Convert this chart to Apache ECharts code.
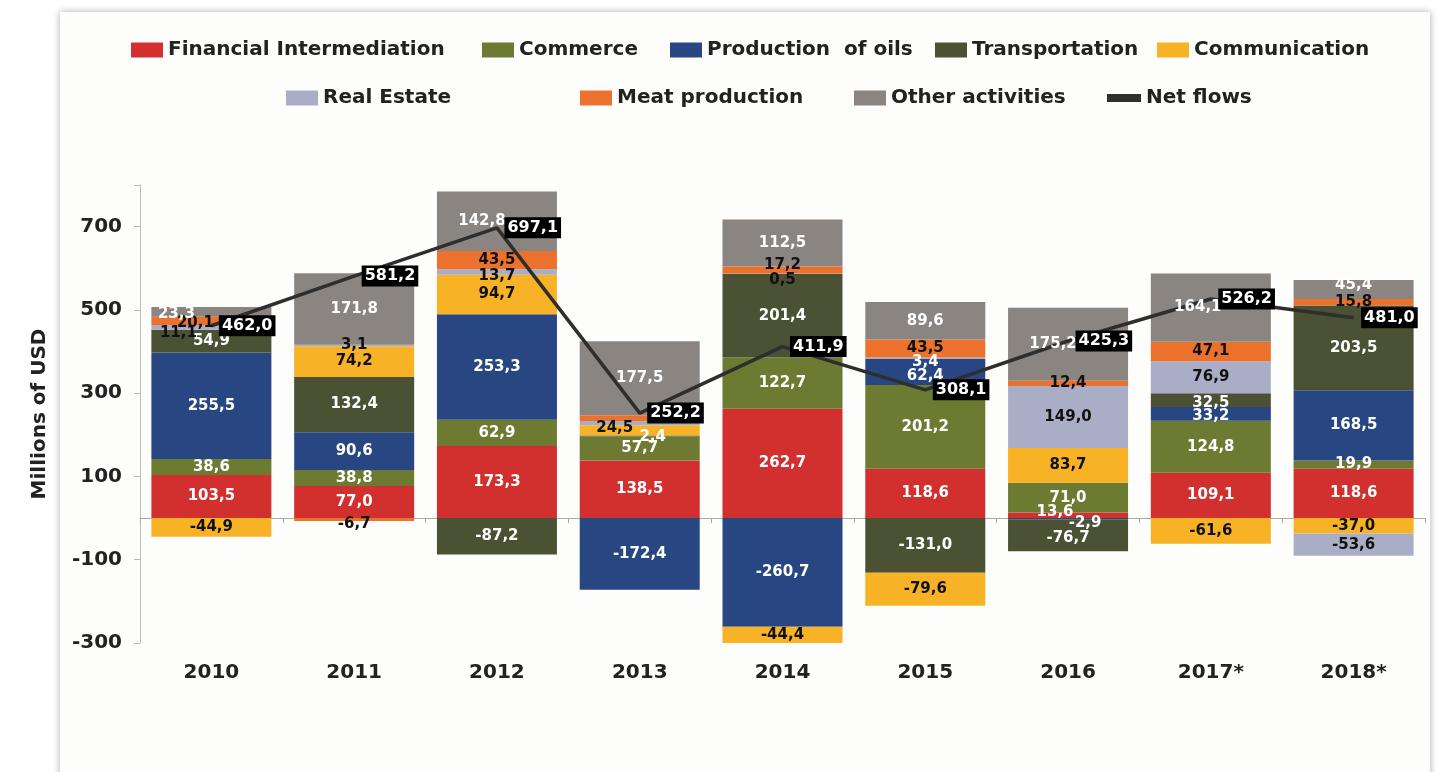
<!DOCTYPE html>
<html>
<head>
<meta charset="utf-8">
<title>Net flows by activity</title>
<script src="https://cdn.jsdelivr.net/npm/echarts@6/dist/echarts.min.js"></script>
<style>
    html, body { margin: 0; padding: 0; background: #ffffff; overflow: hidden; }
    #card {
        position: absolute; left: 60px; top: 12px; width: 1370px; height: 820px;
        background: #fdfdfb; box-shadow: 0 0 7px rgba(0, 0, 0, 0.35);
    }
    #chart { position: absolute; left: 0; top: 0; width: 1438px; height: 772px; }
</style>
</head>
<body>
<div id="card"></div>
<div id="chart"></div>
<script>
// data
const years = ['2010', '2011', '2012', '2013', '2014', '2015', '2016', '2017*', '2018*'];
const financial = [103.5, 77.0, 173.3, 138.5, 262.7, 118.6, 13.6, 109.1, 118.6];
const commerce = [38.6, 38.8, 62.9, 57.7, 122.7, 201.2, 71.0, 124.8, 19.9];
const oils = [255.5, 90.6, 253.3, -172.4, -260.7, 62.4, -2.9, 33.2, 168.5];
const transportation = [54.9, 132.4, -87.2, 2.4, 201.4, -131.0, -76.7, 32.5, 203.5];
const communication = [-44.9, 74.2, 94.7, 24.5, -44.4, -79.6, 83.7, -61.6, -37.0];
const realEstate = [11.1, 3.1, 13.7, 9.8, 0.5, 3.4, 149.0, 76.9, -53.6];
const meat = [20.1, -6.7, 43.5, 14.2, 17.2, 43.5, 12.4, 47.1, 15.8];
const other = [23.3, 171.8, 142.8, 177.5, 112.5, 89.6, 175.2, 164.1, 45.4];
const netFlows = [462.0, 581.2, 697.1, 252.2, 411.9, 308.1, 425.3, 526.2, 481.0];
const yTicks = [-300, -100, 100, 300, 500, 700];

const FONT = 'DejaVu Sans';

// label tweaks where the segments are thin (series key -> year index -> [dx, dy])
const nudges = {
    financial: { 6: [-13, -3] },
    oils: { 5: [0, 4], 6: [17, 4], 7: [0, 2] },
    transportation: { 3: [13, 1], 6: [0, 3], 7: [0, 3] },
    communication: { 3: [-25, -2] },
    realEstate: { 0: [-33, 6], 2: [0, 4], 4: [0, 6], 5: [0, 4] },
    meat: { 0: [-16, 2], 1: [0, 5], 4: [0, -5] },
    other: { 0: [-35, 2], 2: [-15, 0], 6: [-15, 0], 7: [-13, 0], 8: [0, -4] }
};
const noLabel = { realEstate: [3], meat: [3] };
const whiteLabel = { realEstate: [5] };

const stacks = [
    { key: 'financial', name: 'Financial Intermediation', values: financial, color: '#d2302f', text: '#ffffff' },
    { key: 'commerce', name: 'Commerce', values: commerce, color: '#6d7a32', text: '#ffffff' },
    { key: 'oils', name: 'Production  of oils', values: oils, color: '#284682', text: '#ffffff' },
    { key: 'transportation', name: 'Transportation', values: transportation, color: '#4b5233', text: '#ffffff' },
    { key: 'communication', name: 'Communication', values: communication, color: '#f8b225', text: '#111111' },
    { key: 'realEstate', name: 'Real Estate', values: realEstate, color: '#a9aec6', text: '#111111' },
    { key: 'meat', name: 'Meat production', values: meat, color: '#ec712c', text: '#111111' },
    { key: 'other', name: 'Other activities', values: other, color: '#8a8580', text: '#ffffff' }
];

function fmt(v) {
    return v.toFixed(1).replace('.', ',');
}

// coloured segments (no text)
const barSeries = stacks.map(function (s) {
    return {
        name: s.name,
        type: 'bar',
        stack: 'total',
        barWidth: 120,
        z: 2,
        itemStyle: { color: s.color },
        data: s.values
    };
});

// the same stacks again, invisible, only to carry the numbers above the line
const barLabelSeries = stacks.map(function (s) {
    const data = s.values.map(function (v, i) {
        const item = { value: v };
        if ((noLabel[s.key] || []).indexOf(i) >= 0) {
            item.label = { show: false };
            return item;
        }
        const lab = {};
        if (nudges[s.key] && nudges[s.key][i]) lab.offset = nudges[s.key][i];
        if ((whiteLabel[s.key] || []).indexOf(i) >= 0) lab.color = '#ffffff';
        if (Object.keys(lab).length) item.label = lab;
        return item;
    });
    return {
        name: s.name,
        type: 'bar',
        stack: 'labels',
        barWidth: 120,
        barGap: '-100%',
        z: 4,
        silent: true,
        itemStyle: { color: 'rgba(0,0,0,0)' },
        label: {
            show: true,
            position: 'inside',
            color: s.text,
            fontFamily: FONT,
            fontSize: 15,
            fontWeight: 'bold',
            formatter: function (p) { return fmt(p.value); }
        },
        data: data
    };
});

const lineSeries = {
    name: 'Net flows',
    type: 'line',
    data: netFlows,
    symbol: 'none',
    z: 3,
    lineStyle: { color: '#2e2e2e', width: 3.5 },
    itemStyle: { color: '#2e2e2e' }
};

// black value tags on top of everything
const tagSeries = {
    name: 'Net flows',
    type: 'line',
    data: netFlows,
    symbol: 'circle',
    symbolSize: 1,
    showSymbol: true,
    z: 10,
    lineStyle: { width: 0, opacity: 0 },
    itemStyle: { color: '#2e2e2e' },
    label: {
        show: true,
        position: 'right',
        distance: 7,
        backgroundColor: '#000000',
        color: '#ffffff',
        fontFamily: FONT,
        fontSize: 16,
        fontWeight: 'bold',
        padding: [3, 3, 2, 3],
        formatter: function (p) { return fmt(p.value); }
    }
};

// legend slots: [name, left, top]
const legendSlots = [
    ['Financial Intermediation', 131, 40],
    ['Commerce', 482, 40],
    ['Production  of oils', 670, 40],
    ['Transportation', 935, 40],
    ['Communication', 1157, 40],
    ['Real Estate', 286, 88],
    ['Meat production', 580, 88],
    ['Other activities', 854, 88],
    ['Net flows', 1107, 88]
];

const legends = legendSlots.map(function (slot) {
    const isLine = slot[0] === 'Net flows';
    return {
        data: [{ name: slot[0], icon: 'rect' }],
        left: slot[1],
        top: slot[2],
        padding: 0,
        itemWidth: isLine ? 34 : 32,
        itemHeight: isLine ? 8 : 15,
        itemGap: 6,
        textStyle: { color: '#222222', fontFamily: FONT, fontSize: 20, fontWeight: 'bold' }
    };
});

const chart = echarts.init(document.getElementById('chart'));
chart.setOption({
    animation: false,
    backgroundColor: 'transparent',
    legend: legends,
    grid: { left: 140, right: 13, top: 185, bottom: 129 },
    xAxis: [
        {
            type: 'category',
            data: years,
            axisLine: { show: false, onZero: false },
            axisTick: { show: false },
            axisLabel: {
                margin: 20,
                color: '#222222',
                fontFamily: FONT,
                fontSize: 20,
                fontWeight: 'bold'
            }
        },
        {
            type: 'category',
            data: years,
            position: 'bottom',
            axisLine: { show: true, onZero: true, lineStyle: { color: '#aaaaaa', width: 1 } },
            axisTick: { show: true, length: 5, lineStyle: { color: '#aaaaaa' } },
            axisLabel: { show: false }
        }
    ],
    yAxis: {
        type: 'value',
        min: -300,
        max: 800,
        interval: 200,
        name: 'Millions of USD',
        nameLocation: 'middle',
        nameRotate: 90,
        nameGap: 90,
        nameTextStyle: { color: '#222222', fontFamily: FONT, fontSize: 20, fontWeight: 'bold' },
        splitLine: { show: false },
        axisLine: { show: true, lineStyle: { color: '#bbbbbb' } },
        axisTick: { show: true, length: 6, lineStyle: { color: '#bbbbbb' } },
        axisLabel: {
            margin: 18,
            color: '#222222',
            fontFamily: FONT,
            fontSize: 20,
            fontWeight: 'bold',
            formatter: function (v) {
                return yTicks.indexOf(v) >= 0 ? String(v) : '';
            }
        }
    },
    series: barSeries.concat(barLabelSeries, [lineSeries, tagSeries])
});
</script>
</body>
</html>
